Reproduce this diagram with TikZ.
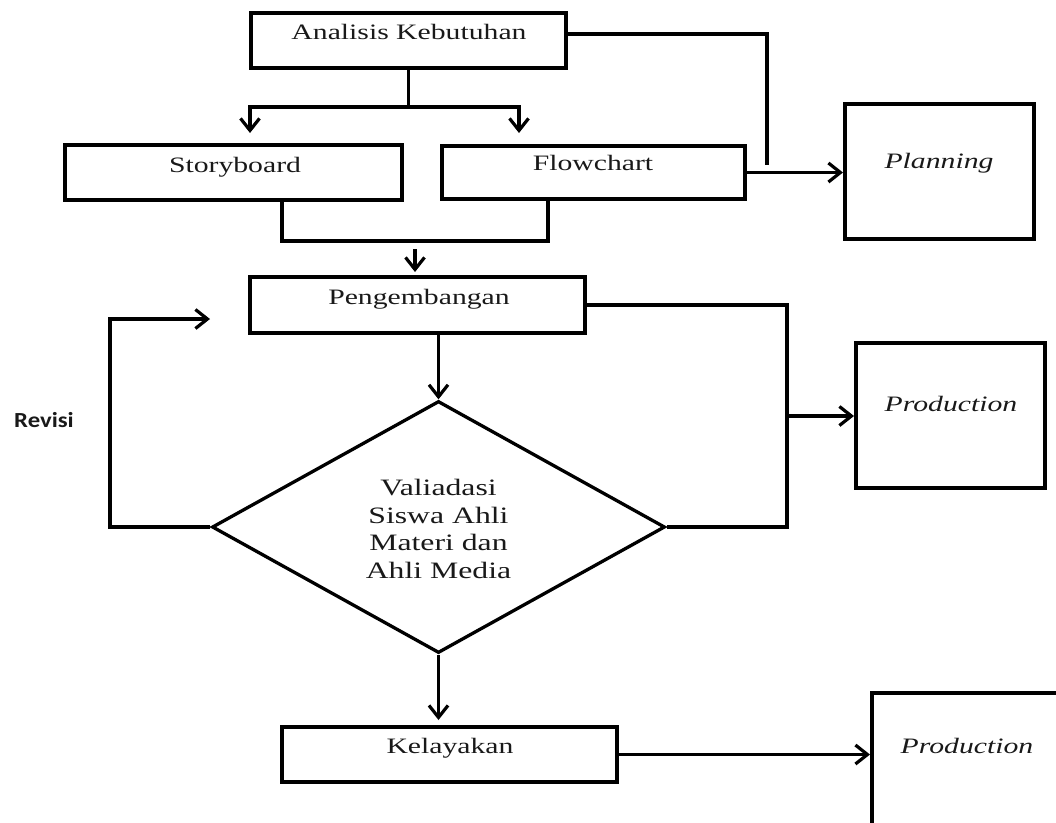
\documentclass[tikz,border=0pt]{standalone}
\usepackage{fontspec}
\setmainfont{Liberation Serif}[FakeStretch=1.35]
\newfontfamily\revfont{Carlito}[FakeStretch=1.15]
\usetikzlibrary{shapes.geometric,arrows.meta}
\begin{document}
\begin{tikzpicture}[x=1pt,y=-1pt,
  box/.style={draw, line width=4pt, inner sep=0pt},
  lbl/.style={font=\fontsize{22}{27.7}\selectfont, text=black!90, inner sep=0pt},
  conn/.style={line width=3.6pt},
  arr/.style={line width=3.6pt, -{Straight Barb[length=12pt,width=19pt,line width=3.2pt]}}]
\useasboundingbox (0,0) rectangle (1056,822);
\clip (0,0) rectangle (1056,822);

% boxes
\node[box, minimum width=315pt, minimum height=55pt] (ana) at (408.5,40.5) {};
\node[lbl, anchor=base] (anaT) at (409,39) {Analisis Kebutuhan};

\node[box, minimum width=337pt, minimum height=55pt] (sb) at (233.5,172.5) {};
\node[lbl, anchor=base] (sbT) at (235,172) {Storyboard};

\node[box, minimum width=303pt, minimum height=53pt] (fc) at (593.5,172.5) {};
\node[lbl, anchor=base] (fcT) at (593,170) {Flowchart};

\node[box, minimum width=189pt, minimum height=135pt] (plan) at (939.5,171.5) {};
\node[lbl, anchor=base] (planT) at (939,168) {\itshape Planning};

\node[box, minimum width=335pt, minimum height=56pt] (peng) at (417.5,305) {};
\node[lbl, anchor=base] (pengT) at (419,304) {Pengembangan};

\node[box, minimum width=189pt, minimum height=145pt] (prodA) at (950.5,415.5) {};
\node[lbl, anchor=base] (prodAT) at (951,411) {\itshape Production};

\node[draw, diamond, line width=3.3pt, minimum width=453pt, minimum height=252pt, inner sep=0pt] (dia) at (438.5,527) {};
\node[lbl, font=\fontsize{23.5}{27.7}\selectfont, align=center] (diaT) at (438.5,529) {Valiadasi\\Siswa Ahli\\Materi dan\\Ahli Media};

\node[box, minimum width=335pt, minimum height=55pt] (kel) at (449.5,754.5) {};
\node[lbl, anchor=base] (kelT) at (450,753) {Kelayakan};

\node[box, minimum width=192pt, minimum height=145pt] (prodB) at (968,765.5) {};
\node[lbl, anchor=base] (prodBT) at (967,753) {\itshape Production};

\node[font=\revfont\bfseries\fontsize{21.5}{25}\selectfont, text=black!90, inner sep=0pt, anchor=base] (rev) at (44,427) {Revisi};

% coordinates
\coordinate (j1) at (408.5,107);
\coordinate (sbIn) at (250,133);
\coordinate (fcIn) at (519,133);
\coordinate (a1) at (767,34);
\coordinate (a2) at (767,165);
\coordinate (m1) at (282,241);
\coordinate (m2) at (548,241);
\coordinate (m3) at (415,249);
\coordinate (p2) at (787,527);
\coordinate (p3) at (787,416);
\coordinate (r2) at (110,319);
\coordinate (rEnd) at (210,319);

% connectors
\draw[conn] (ana.south) -- (j1);
\draw[arr] (j1) -| (sbIn);
\draw[arr] (j1) -| (fcIn);
\draw[conn] (ana.east |- a1) -- (a1) -- (a2);
\draw[arr] (fc.east) -- (fc.east -| plan.west);
\draw[conn] (sb.south -| m1) -- (m1) -- (m2) -- (fc.south -| m2);
\draw[arr] (m3) -- ([yshift=3pt]peng.north -| m3);
\draw[conn] (peng.east) -| (p2) -- (dia.east);
\draw[arr] (p3) -- (p3 -| prodA.west);
\draw[arr] (peng.south -| dia.north) -- (dia.north);
\draw[arr] (dia.west) -| (r2) -- (rEnd);
\draw[arr] (dia.south) -- ([yshift=5pt]kel.north -| dia.south);
\draw[arr] (kel.east) -- (kel.east -| prodB.west);
\end{tikzpicture}
\end{document}
